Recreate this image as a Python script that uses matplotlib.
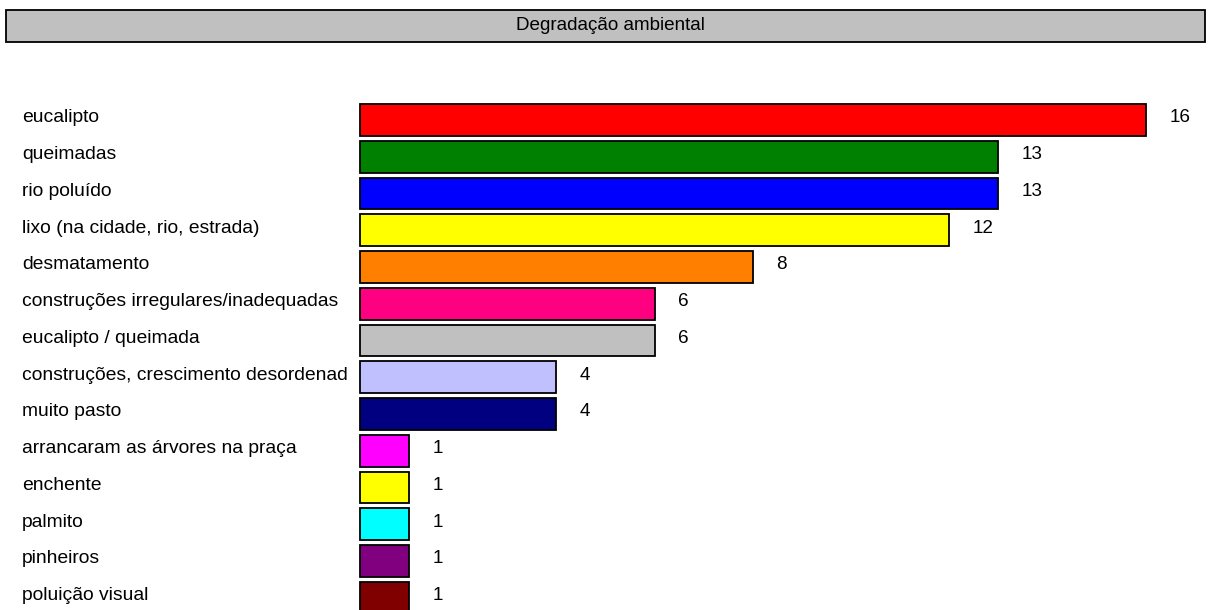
import matplotlib
matplotlib.use("Agg")
import matplotlib.pyplot as plt
from matplotlib import transforms
from matplotlib.patches import Rectangle

plt.rcParams['font.family'] = ['Liberation Sans', 'DejaVu Sans']

title = "Degradação ambiental"
categories = [
    "eucalipto",
    "queimadas",
    "rio poluído",
    "lixo (na cidade, rio, estrada)",
    "desmatamento",
    "construções irregulares/inadequadas",
    "eucalipto / queimada",
    "construções, crescimento desordenad",
    "muito pasto",
    "arrancaram as árvores na praça",
    "enchente",
    "palmito",
    "pinheiros",
    "poluição visual",
]
values = [16, 13, 13, 12, 8, 6, 6, 4, 4, 1, 1, 1, 1, 1]
colors = ["#FF0000", "#008000", "#0000FF", "#FFFF00", "#FF8000", "#FF0080",
          "#C0C0C0", "#C0C0FF", "#000080", "#FF00FF", "#FFFF00", "#00FFFF",
          "#800080", "#800000"]

W, H, DPI = 1213, 610, 100
FS = 13.6
LFS = 13.9
fig = plt.figure(figsize=(W / DPI, H / DPI), dpi=DPI)
fig.patch.set_facecolor("white")

# Title banner
fig.add_artist(Rectangle((6 / W, 1 - 42 / H), (1205 - 6) / W, 32 / H,
                         transform=fig.transFigure, facecolor="#C0C0C0",
                         edgecolor="black", linewidth=1.3))
fig.text(610 / W, 1 - 25.5 / H, title, ha="center", va="center", fontsize=FS)

# Bar area: full-figure axes, scaled so bars start at x=360px
ax = fig.add_axes([0, 0, 1, 1])
ax.axis("off")
upx = 16 / (1145.6 - 360)          # data units per pixel horizontally
ax.set_xlim(-360 * upx, (W - 360) * upx)
row = 36.75
ax.set_ylim((H - 120) / row, -120 / row)

ypos = list(range(len(categories)))
ax.barh(ypos, values, height=31.7 / row, color=colors, edgecolor="black",
        linewidth=1.3)

lab_tr = transforms.blended_transform_factory(fig.transFigure, ax.transData)
for i, (cat, v) in enumerate(zip(categories, values)):
    ax.text(22 / W, i - 0.06, cat, transform=lab_tr, ha="left", va="center",
            fontsize=LFS)
    ax.annotate(str(v), xy=(v, i - 0.06), xytext=(17, 0),
                textcoords="offset points", ha="left", va="center",
                fontsize=FS)

fig.savefig("out.png", dpi=DPI)
